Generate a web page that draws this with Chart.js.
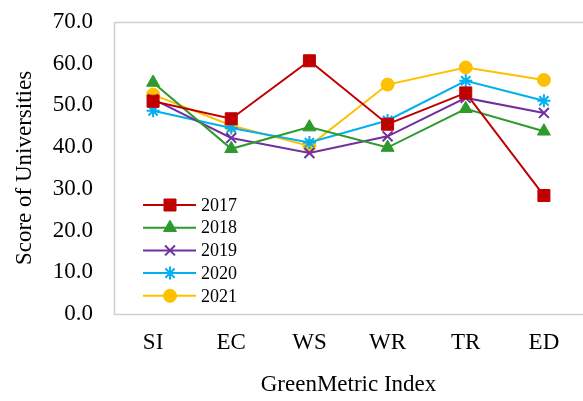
<!DOCTYPE html>
<html>
<head>
<meta charset="utf-8">
<script src="https://cdn.jsdelivr.net/npm/chart.js@4.4.1/dist/chart.umd.min.js"></script>
<style>
  html, body { margin: 0; padding: 0; background: #fff; }
  #wrap { width: 583px; height: 401px; }
</style>
</head>
<body>
<div id="wrap"><canvas id="chart" width="583" height="401"></canvas></div>
<script>
// Data
const indexLabels = ['SI', 'EC', 'WS', 'WR', 'TR', 'ED'];
const years = ['2017', '2018', '2019', '2020', '2021'];
const score2017 = [51.0, 46.8, 60.7, 45.5, 53.0, 28.4];
const score2018 = [55.5, 39.6, 44.8, 39.9, 49.2, 43.8];
const score2019 = [51.5, 42.2, 38.6, 42.6, 51.8, 48.2];
const score2020 = [48.7, 44.6, 41.1, 46.4, 55.9, 51.1];
const score2021 = [52.6, 45.2, 40.3, 55.0, 59.1, 56.1];
const yTicks = [0, 10, 20, 30, 40, 50, 60, 70];

const serif = "'Liberation Serif', 'Times New Roman', serif";

function series(label, data, color, style, radius) {
    return {
        label: label,
        data: data,
        borderColor: color,
        backgroundColor: color,
        borderWidth: 2,
        pointStyle: style,
        pointRadius: radius,
        pointHoverRadius: radius,
        pointBackgroundColor: color,
        pointBorderColor: color,
        pointBorderWidth: (style === 'crossRot' || style === 'star') ? 2 : 1,
        tension: 0,
        fill: false
    };
}

const datasets = [
    series(years[0], score2017, '#C00000', 'rect', 8.5),
    series(years[1], score2018, '#2E9A2E', 'triangle', 7.5),
    series(years[2], score2019, '#7030A0', 'crossRot', 7),
    series(years[3], score2020, '#00B0F0', 'star', 6.5),
    series(years[4], score2021, '#FFC000', 'circle', 6.5)
];

// frame around the plot area
const framePlugin = {
    id: 'frame',
    beforeDatasetsDraw(chart) {
        const a = chart.chartArea;
        const ctx = chart.ctx;
        ctx.save();
        ctx.strokeStyle = '#D0D0D0';
        ctx.lineWidth = 1.5;
        ctx.strokeRect(a.left + 0.5, a.top + 0.5, a.right - a.left + 2, a.bottom - a.top);
        ctx.restore();
    }
};

// legend drawn inside the plot, lower left
const innerLegend = {
    id: 'innerLegend',
    afterDatasetsDraw(chart) {
        const a = chart.chartArea;
        const ctx = chart.ctx;
        const x0 = a.left + 29, x1 = a.left + 82, xm = a.left + 56;
        const rowH = 22.7;
        const firstY = a.bottom - 109;
        ctx.save();
        chart.data.datasets.forEach((ds, i) => {
            const y = firstY + i * rowH;
            ctx.strokeStyle = ds.borderColor;
            ctx.lineWidth = 2;
            ctx.beginPath();
            ctx.moveTo(x0, y);
            ctx.lineTo(x1, y);
            ctx.stroke();
            ctx.fillStyle = ds.pointBackgroundColor;
            ctx.strokeStyle = ds.pointBorderColor;
            ctx.lineWidth = ds.pointBorderWidth;
            Chart.helpers.drawPoint(ctx, {
                pointStyle: ds.pointStyle,
                radius: ds.pointRadius,
                rotation: 0,
                borderWidth: ds.pointBorderWidth
            }, xm, y);
            ctx.fillStyle = '#000';
            ctx.font = "18px " + serif;
            ctx.textBaseline = 'middle';
            ctx.textAlign = 'left';
            ctx.fillText(ds.label, x1 + 5, y + 1);
        });
        ctx.restore();
    }
};

new Chart(document.getElementById('chart'), {
    type: 'line',
    data: { labels: indexLabels, datasets: datasets },
    options: {
        responsive: false,
        animation: false,
        layout: { autoPadding: false, padding: { top: 22, right: 0, bottom: 0, left: 0 } },
        plugins: { legend: { display: false }, tooltip: { enabled: false } },
        scales: {
            x: {
                offset: true,
                grid: { display: false, drawTicks: false },
                border: { display: false },
                ticks: { color: '#000', font: { family: serif, size: 23 }, padding: 15 },
                title: {
                    display: true, text: 'GreenMetric Index', color: '#000',
                    font: { family: serif, size: 23 }, padding: { top: 0, bottom: 2 }
                },
                afterFit(scale) {
                    scale.height = 87;
                    scale.paddingLeft = 0;
                    scale.paddingRight = 0;
                }
            },
            y: {
                min: 0,
                max: 70,
                afterBuildTicks(scale) { scale.ticks = yTicks.map(v => ({ value: v })); },
                grid: { display: false, drawTicks: false },
                border: { display: false },
                ticks: {
                    color: '#000', font: { family: serif, size: 23 }, padding: 21,
                    callback: v => Number(v).toFixed(1)
                },
                title: {
                    display: true, text: 'Score of Universities', color: '#000',
                    font: { family: serif, size: 23 }, padding: { top: 11, bottom: 0 }
                },
                afterFit(scale) {
                    scale.width = 114;
                    scale.paddingTop = 0;
                    scale.paddingBottom = 0;
                }
            }
        }
    },
    plugins: [framePlugin, innerLegend]
});
</script>
</body>
</html>
